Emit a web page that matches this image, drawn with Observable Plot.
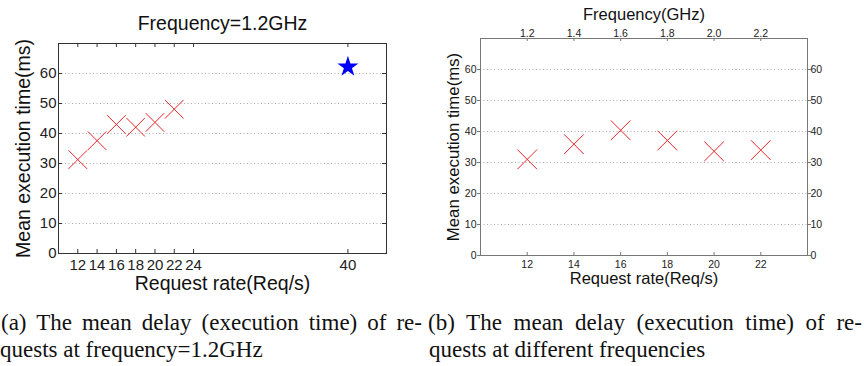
<!DOCTYPE html>
<html>
<head>
<meta charset="utf-8">
<script src="https://cdn.jsdelivr.net/npm/d3@7"></script>
<script src="https://cdn.jsdelivr.net/npm/@observablehq/plot@0.6"></script>
<style>
  html, body { margin: 0; padding: 0; background: #fff; }
  #wrap { position: relative; width: 864px; height: 366px; overflow: hidden; background: #fff; }
  .panel { position: absolute; top: 0; }
  .cap { position: absolute; font-family: "Liberation Serif", "Times New Roman", serif; font-size: 23px; line-height: 27px; color: #111; white-space: nowrap; }
  .just { text-align: justify; text-align-last: justify; white-space: normal; }
</style>
</head>
<body>
<div id="wrap">
  <div id="a" class="panel" style="left:0px"></div>
  <div id="b" class="panel" style="left:420px"></div>
  <div class="cap just" style="left:1px; top:309px; width:421px;">(a) The mean delay (execution time) of re-</div>
  <div class="cap" style="left:0px; top:336px;">quests at frequency=1.2GHz</div>
  <div class="cap just" style="left:428px; top:309px; width:434px;">(b) The mean delay (execution time) of re-</div>
  <div class="cap" style="left:429px; top:336px;">quests at different frequencies</div>
</div>
<script>
// ---- data: panel (a), frequency = 1.2 GHz ----
const rateA = [12, 14, 16, 18, 20, 22];
const timeA = [31.3, 37.6, 43.0, 42.1, 43.7, 48.1];
const starRate = [40];
const starTime = [62.2];
const xTicksA = [12, 14, 16, 18, 20, 22, 24, 40];
const yTicks = [0, 10, 20, 30, 40, 50, 60];

// ---- data: panel (b), different frequencies ----
const rateB = [12, 14, 16, 18, 20, 22];
const freqB = ["1.2", "1.4", "1.6", "1.8", "2.0", "2.2"];
const timeB = [31.0, 35.9, 40.4, 37.1, 33.6, 34.0];

const titleA = "Frequency=1.2GHz";
const xLabel = "Request rate(Req/s)";
const yLabel = "Mean execution time(ms)";
const topLabelB = "Frequency(GHz)";

const ptsA = rateA.map((r, i) => ({rate: r, time: timeA[i]}));
const starPts = starRate.map((r, i) => ({rate: r, time: starTime[i]}));
const ptsB = rateB.map((r, i) => ({rate: r, freq: freqB[i], time: timeB[i]}));

const FONT = '"Liberation Sans", Arial, Helvetica, sans-serif';
const RED = "#e8262b";

// ---------- panel (a) ----------
{
  const W = 420, H = 290, mL = 58, mR = 34, mT = 43, mB = 37;
  const pw = W - mL - mR, ph = H - mT - mB;
  const tl = 4;
  const frameColor = "#333";
  const chart = Plot.plot({
    width: W, height: H,
    marginLeft: mL, marginRight: mR, marginTop: mT, marginBottom: mB,
    style: {fontFamily: FONT, color: "#222", background: "#fff", overflow: "visible"},
    x: {domain: [10, 44]},
    y: {domain: [0, 70]},
    marks: [
      Plot.gridY(yTicks.filter(d => d > 0), {stroke: "#aaa", strokeOpacity: 1, strokeDasharray: "1,2.5"}),
      Plot.tickX(xTicksA, {x: d => d, insetTop: ph - tl, stroke: frameColor}),
      Plot.tickX(xTicksA, {x: d => d, insetBottom: ph - tl, stroke: frameColor}),
      Plot.tickY(yTicks, {y: d => d, insetRight: pw - tl, stroke: frameColor}),
      Plot.tickY(yTicks, {y: d => d, insetLeft: pw - tl, stroke: frameColor}),
      Plot.frame({stroke: frameColor}),
      Plot.axisX({ticks: xTicksA, tickSize: 0, tickPadding: 6, fontSize: 15, tickFormat: d => String(d), label: null}),
      Plot.axisY({ticks: yTicks, tickSize: 0, tickPadding: 2, fontSize: 15, tickFormat: d => String(d), label: null}),
      Plot.dot(ptsA, {x: "rate", y: "time", symbol: "times", r: 8.5, stroke: RED, strokeWidth: 1}),
      Plot.dot(starPts, {x: "rate", y: "time", symbol: "star", r: 6.6, fill: "#0000ff", stroke: "none"}),
      Plot.text([titleA], {text: d => d, frameAnchor: "top", lineAnchor: "middle", textAnchor: "middle", dy: -20, fontSize: 19.5, fill: "#111"}),
      Plot.text([xLabel], {text: d => d, frameAnchor: "bottom", lineAnchor: "middle", textAnchor: "middle", dy: 30, fontSize: 19.5, fill: "#111"}),
      Plot.text([yLabel], {text: d => d, frameAnchor: "left", lineAnchor: "middle", textAnchor: "middle", dx: -35, rotate: -90, fontSize: 19.5, fill: "#111"})
    ]
  });
  document.getElementById("a").appendChild(chart);
}

// ---------- panel (b) ----------
{
  const W = 444, H = 290, mL = 60, mR = 57, mT = 38, mB = 35;
  const pw = W - mL - mR, ph = H - mT - mB;
  const tl = 3;
  const frameColor = "#777";
  const chart = Plot.plot({
    width: W, height: H,
    marginLeft: mL, marginRight: mR, marginTop: mT, marginBottom: mB,
    style: {fontFamily: FONT, color: "#222", background: "#fff", overflow: "visible"},
    x: {domain: [10, 24]},
    y: {domain: [0, 70]},
    marks: [
      Plot.gridY(yTicks.filter(d => d > 0), {stroke: "#aaa", strokeOpacity: 1, strokeDasharray: "1,2.5"}),
      Plot.tickX(rateB, {x: d => d, insetTop: ph - tl, stroke: frameColor}),
      Plot.tickX(rateB, {x: d => d, insetBottom: ph - tl, stroke: frameColor}),
      Plot.frame({stroke: frameColor}),
      Plot.axisX({ticks: rateB, tickSize: 0, tickPadding: 5, fontSize: 10.5, tickFormat: d => String(d), label: null}),
      Plot.axisY({ticks: yTicks, anchor: "left", tickSize: 3, tickPadding: 1, fontSize: 10.5, stroke: frameColor, tickFormat: d => String(d), label: null}),
      Plot.axisY({ticks: yTicks, anchor: "right", tickSize: 3, tickPadding: 0, fontSize: 10.5, stroke: frameColor, tickFormat: d => String(d), label: null}),
      Plot.text(ptsB, {x: "rate", text: "freq", frameAnchor: "top", lineAnchor: "bottom", textAnchor: "middle", dy: -2, fontSize: 10.5, fill: "#222"}),
      Plot.dot(ptsB, {x: "rate", y: "time", symbol: "times", r: 9, stroke: RED, strokeWidth: 1}),
      Plot.text([topLabelB], {text: d => d, frameAnchor: "top", lineAnchor: "middle", textAnchor: "middle", dy: -24, fontSize: 16.5, fill: "#111"}),
      Plot.text([xLabel], {text: d => d, frameAnchor: "bottom", lineAnchor: "middle", textAnchor: "middle", dy: 23, fontSize: 16.5, fill: "#111"}),
      Plot.text([yLabel], {text: d => d, frameAnchor: "left", lineAnchor: "middle", textAnchor: "middle", dx: -27, rotate: -90, fontSize: 16.8, fill: "#111"})
    ]
  });
  document.getElementById("b").appendChild(chart);
}
</script>
</body>
</html>
